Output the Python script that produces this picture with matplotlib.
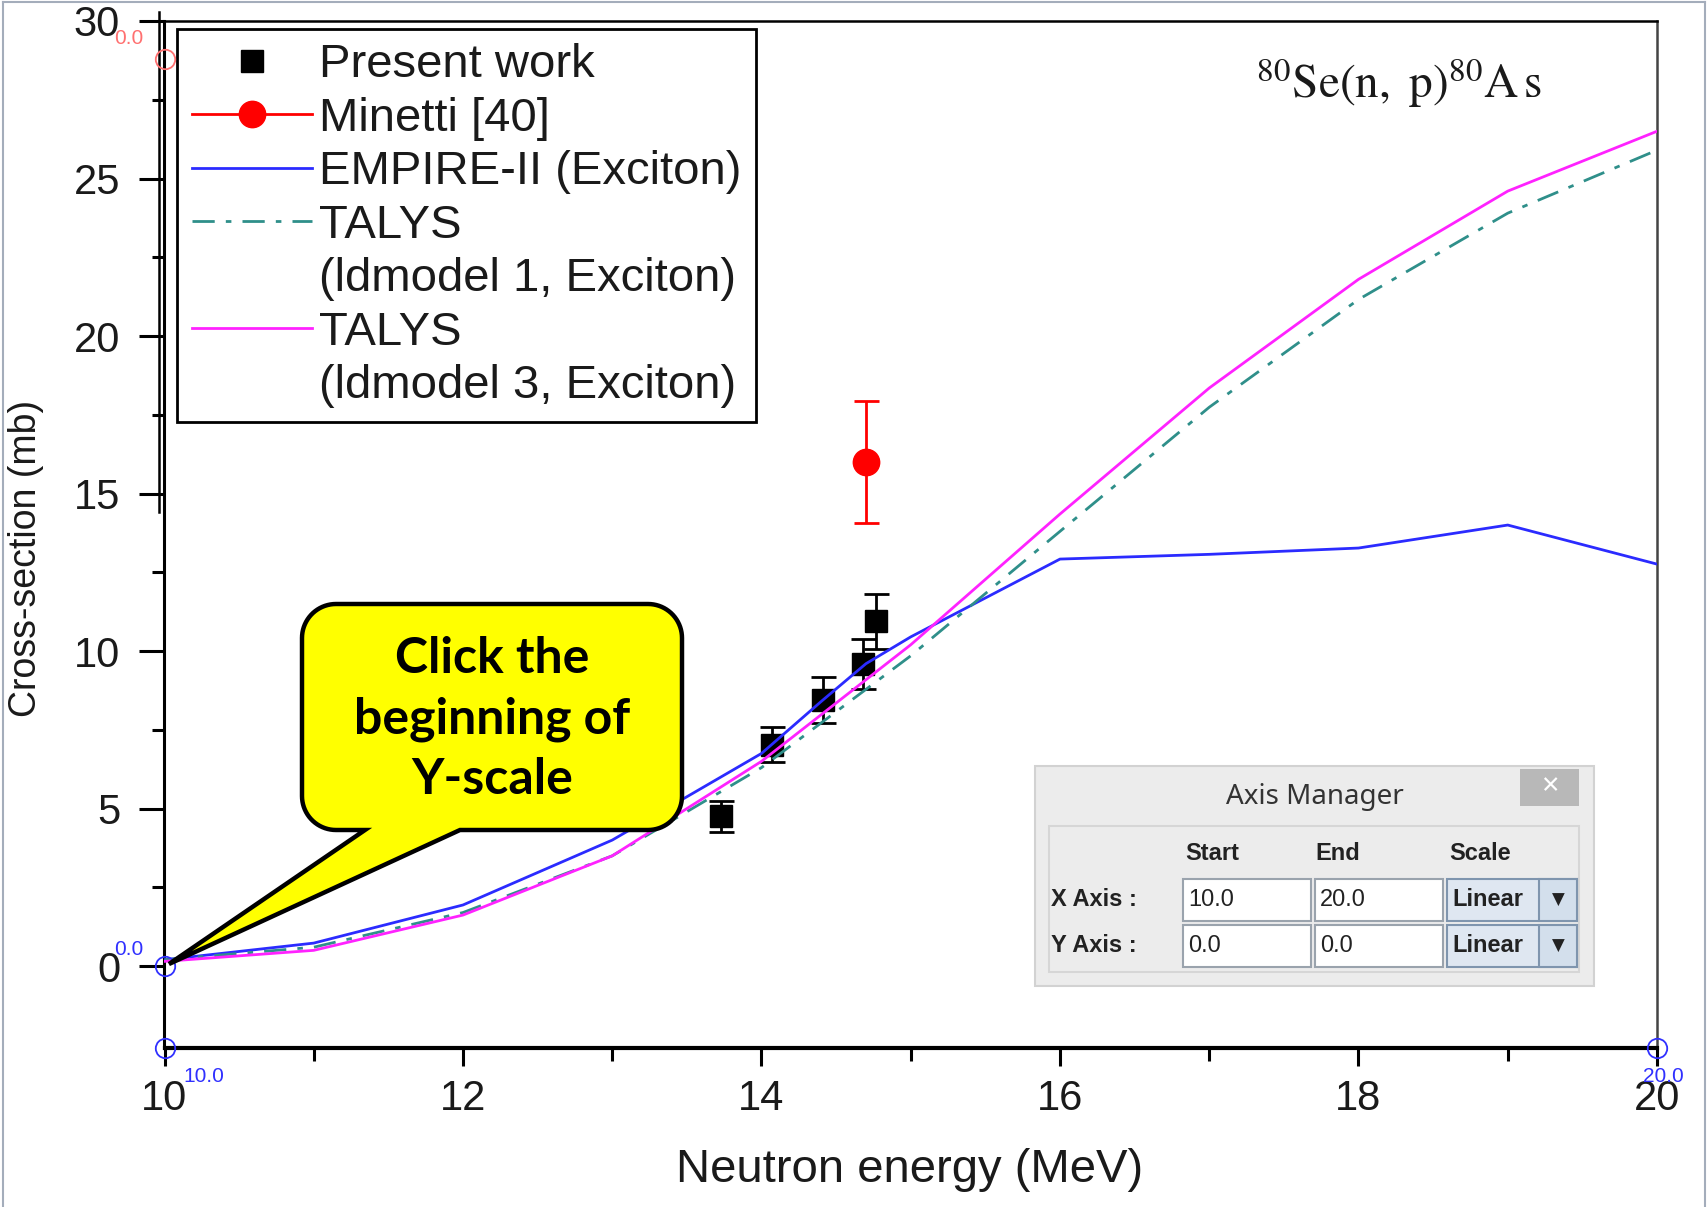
import numpy as np
import matplotlib
matplotlib.use("Agg")
import matplotlib.pyplot as plt
from matplotlib.lines import Line2D
from matplotlib.patches import Rectangle, Polygon
from matplotlib.transforms import ScaledTranslation

# ---- data ----
energy_pw = [13.73, 14.07, 14.41, 14.68, 14.77]
xs_pw = [4.75, 7.03, 8.46, 9.58, 10.95]
err_pw = [0.50, 0.55, 0.73, 0.80, 0.87]

energy_minetti = [14.70]
xs_minetti = [16.0]
err_minetti = [1.95]

energy_empire = [10, 11, 12, 13, 14, 14.4, 14.7, 15, 16, 17, 18, 19, 20]
xs_empire = [0.2, 0.73, 1.94, 4.0, 6.75, 8.4, 9.6, 10.45, 12.92, 13.07, 13.27, 14.0, 12.76]

energy_talys = [10, 11, 12, 13, 14, 15, 16, 17, 18, 19, 20]
xs_talys1 = [0.2, 0.6, 1.7, 3.5, 6.3, 9.85, 13.8, 17.74, 21.16, 23.9, 25.9]
xs_talys3 = [0.15, 0.5, 1.62, 3.5, 6.5, 10.2, 14.35, 18.35, 21.8, 24.6, 26.5]

x_ticks = [10, 12, 14, 16, 18, 20]
y_ticks = [0, 5, 10, 15, 20, 25, 30]

# digitizer calibration marks
calib_x = [10, 10, 20]
calib_y = [0, -2.6, -2.6]
calib_labels = ["0.0", "10.0", "20.0"]

W, H = 1708, 1207
plt.rcParams["font.family"] = ["Liberation Sans", "DejaVu Sans"]
fig = plt.figure(figsize=(W / 100, H / 100), dpi=100)
ax = fig.add_axes([164.5 / W, 1 - 1048 / H, (1657 - 164.5) / W, (1048 - 21) / H])


def fx(x):
    return x / W


def fy(y):
    return 1 - y / H


def box(x0, y0, x1, y1, **kw):
    fig.add_artist(Rectangle((fx(x0), fy(y1)), fx(x1) - fx(x0), fy(y0) - fy(y1),
                             transform=fig.transFigure, **kw))


def label(x, y, s, **kw):
    fig.text(fx(x), fy(y), s, **kw)


teal = "#2f8f8a"

ax.errorbar(energy_pw, xs_pw, yerr=err_pw, fmt="s", color="black", ms=16,
            capsize=9, elinewidth=2, capthick=2, zorder=2)
ax.errorbar(energy_minetti, xs_minetti, yerr=err_minetti, fmt="o", color="red",
            ms=19, capsize=9, elinewidth=2, capthick=2, zorder=2)
ax.plot(energy_empire, xs_empire, color="#2b2bff", lw=2, zorder=3)
ax.plot(energy_talys, xs_talys1, color=teal, lw=2, dashes=(8, 4, 2, 4), zorder=3)
ax.plot(energy_talys, xs_talys3, color="#ff22ff", lw=2, zorder=3)

ax.set_xlim(10, 20)
ax.set_ylim(-2.6, 30)
ax.set_xticks(x_ticks)
ax.set_yticks(y_ticks)
ax.set_xticks(np.arange(11, 20, 2), minor=True)
ax.set_yticks(np.arange(2.5, 30, 5), minor=True)
ax.tick_params(axis="both", labelsize=30, labelcolor="#1a1a1a", direction="out")
ax.tick_params(axis="y", which="major", length=18, width=2.2, pad=14)
ax.tick_params(axis="y", which="minor", length=9, width=2.2)
ax.tick_params(axis="x", which="major", length=13, width=2.2, pad=9)
ax.tick_params(axis="x", which="minor", length=9, width=2.2)
for side, lw in [("left", 2.2), ("bottom", 3), ("top", 1.8), ("right", 1.8)]:
    ax.spines[side].set_linewidth(lw)
ax.spines["right"].set_color("#444444")

ax.set_xlabel("Neutron energy (MeV)", fontsize=34, color="#1a1a1a")
ax.set_ylabel("Cross-section (mb)", fontsize=27, color="#1a1a1a")
ax.xaxis.set_label_coords(0.499, -0.097)
ax.yaxis.set_label_coords(-0.081, 0.477)

# doubled upper part of the left axis line
trans = ax.get_yaxis_transform() + ScaledTranslation(-4 / 72, 0, fig.dpi_scale_trans)
ax.plot([0, 0], [14.4, 30.3], color="black", lw=1.8, transform=trans, clip_on=False)

ax.text(0.827, 0.94, r"$^{80}\mathrm{Se(n,\ p)}^{80}\mathrm{A\,s}$", transform=ax.transAxes,
        fontsize=34, ha="center", va="center", color="#1a1a1a", math_fontfamily="stix")

handles = [
    Line2D([], [], color="black", marker="s", ls="none", ms=16),
    Line2D([], [], color="red", marker="o", ms=19, lw=2),
    Line2D([], [], color="#2b2bff", lw=2),
    Line2D([], [], color=teal, lw=2, dashes=(8, 4, 2, 4)),
    Line2D([], [], color="none"),
    Line2D([], [], color="#ff22ff", lw=2),
    Line2D([], [], color="none"),
]
names = ["Present work", "Minetti [40]", "EMPIRE-II (Exciton)", "TALYS",
         "(ldmodel 1, Exciton)", "TALYS", "(ldmodel 3, Exciton)"]
leg = ax.legend(handles, names, loc="upper left", bbox_to_anchor=(0.0087, 0.992),
                borderaxespad=0, fontsize=34, frameon=True, fancybox=False,
                edgecolor="black", framealpha=1, borderpad=0.3, labelspacing=0.2,
                handlelength=2.55, handletextpad=0.15)
leg.get_frame().set_linewidth(2)
for t in leg.get_texts():
    t.set_color("#1a1a1a")

# calibration marks of the digitizer
ax.plot(calib_x, calib_y, ls="none", marker="o", ms=14, mfc="none", mec="#3030ff",
        mew=1.3, clip_on=False, zorder=6)
offsets = [(-36, 17), (39, -28), (6, -28)]
for cx, cy, s, off in zip(calib_x, calib_y, calib_labels, offsets):
    ax.annotate(s, (cx, cy), xytext=off, textcoords="offset pixels", ha="center",
                va="center", fontsize=15, color="#3030ff", annotation_clip=False)
ax.plot([10], [28.8], ls="none", marker="o", ms=14, mfc="none", mec="#ff7070",
        mew=1.3, clip_on=False, zorder=6)
ax.annotate("0.0", (10, 28.8), xytext=(-36, 20), textcoords="offset pixels",
            ha="center", va="center", fontsize=15, color="#ff7070", annotation_clip=False)

# screenshot border
for (x0, y0, x1, y1) in [(3, 2, 3, 1207), (3, 2, 1705, 2), (1705, 2, 1705, 1207)]:
    fig.add_artist(Line2D([fx(x0), fx(x1)], [fy(y0), fy(y1)], color="#a4adbb",
                          lw=1.5, transform=fig.transFigure))

# speech bubble
x0, y0, x1, y1, r = 302, 604, 682, 830, 34
tip, tail_l, tail_r = (169, 964), 365, 460


def arc(cx, cy, a0, a1):
    t = np.radians(np.linspace(a0, a1, 20))
    return list(zip(cx + r * np.cos(t), cy + r * np.sin(t)))


pts = [(x0 + r, y0), (x1 - r, y0)]
pts += arc(x1 - r, y0 + r, -90, 0)
pts += arc(x1 - r, y1 - r, 0, 90)
pts += [(tail_r, y1), tip, (tail_l, y1)]
pts += arc(x0 + r, y1 - r, 90, 180)
pts += arc(x0 + r, y0 + r, 180, 270)
fig.add_artist(Polygon([(fx(px), fy(py)) for px, py in pts], closed=True,
                       transform=fig.transFigure, fc="#ffff00", ec="black", lw=3.2,
                       joinstyle="miter", zorder=5))
label(492, 719, "Click the\nbeginning of\nY-scale", ha="center", va="center",
      fontsize=36, fontweight="bold", family=["Lato", "DejaVu Sans"],
      linespacing=1.4, color="black", zorder=6)

# Axis Manager dialog
ui = ["Noto Sans", "DejaVu Sans"]
box(1035, 766, 1594, 986, fc="#ececec", ec="#d2d2d2", lw=1.5, zorder=7)
label(1315, 797, "Axis Manager", ha="center", va="center", fontsize=20,
      family=ui, color="#333333", zorder=8)
box(1520, 769, 1579, 806, fc="#b8b8b8", ec="none", zorder=8)
label(1549.5, 787, "×", ha="center", va="center", fontsize=22, color="white",
      family=ui, zorder=9)
box(1049, 826, 1579, 972, fc="#ececec", ec="#d6d6d6", lw=1.5, zorder=8)
for s, xx in [("Start", 1185), ("End", 1315), ("Scale", 1449)]:
    label(xx, 853, s, ha="left", va="center", fontsize=17, fontweight="bold",
          color="#222222", zorder=9)
rows = [("X Axis :", "10.0", "20.0", 879), ("Y Axis :", "0.0", "0.0", 925)]
for name, start, end, top in rows:
    bot = top + 42
    mid = (top + bot) / 2
    label(1051, mid, name, ha="left", va="center", fontsize=17, fontweight="bold",
          color="#222222", zorder=9)
    for (fx0, fx1), s in [((1183, 1311), start), ((1315, 1443), end)]:
        box(fx0, top, fx1, bot, fc="white", ec="#9aa3ad", lw=1.5, zorder=9)
        label(fx0 + 5, mid, s, ha="left", va="center", fontsize=17, color="#222222",
              zorder=10)
    box(1447, top, 1577, bot, fc="#dfe7f1", ec="#7f95ae", lw=1.5, zorder=9)
    box(1539, top, 1577, bot, fc="#d3dfec", ec="#7f95ae", lw=1.5, zorder=9)
    label(1452, mid, "Linear", ha="left", va="center", fontsize=17, fontweight="bold",
          color="#222222", zorder=10)
    label(1558, mid, "▼", ha="center", va="center", fontsize=12, color="#222222",
          family=["DejaVu Sans"], zorder=10)

fig.savefig("out.png", dpi=100)
